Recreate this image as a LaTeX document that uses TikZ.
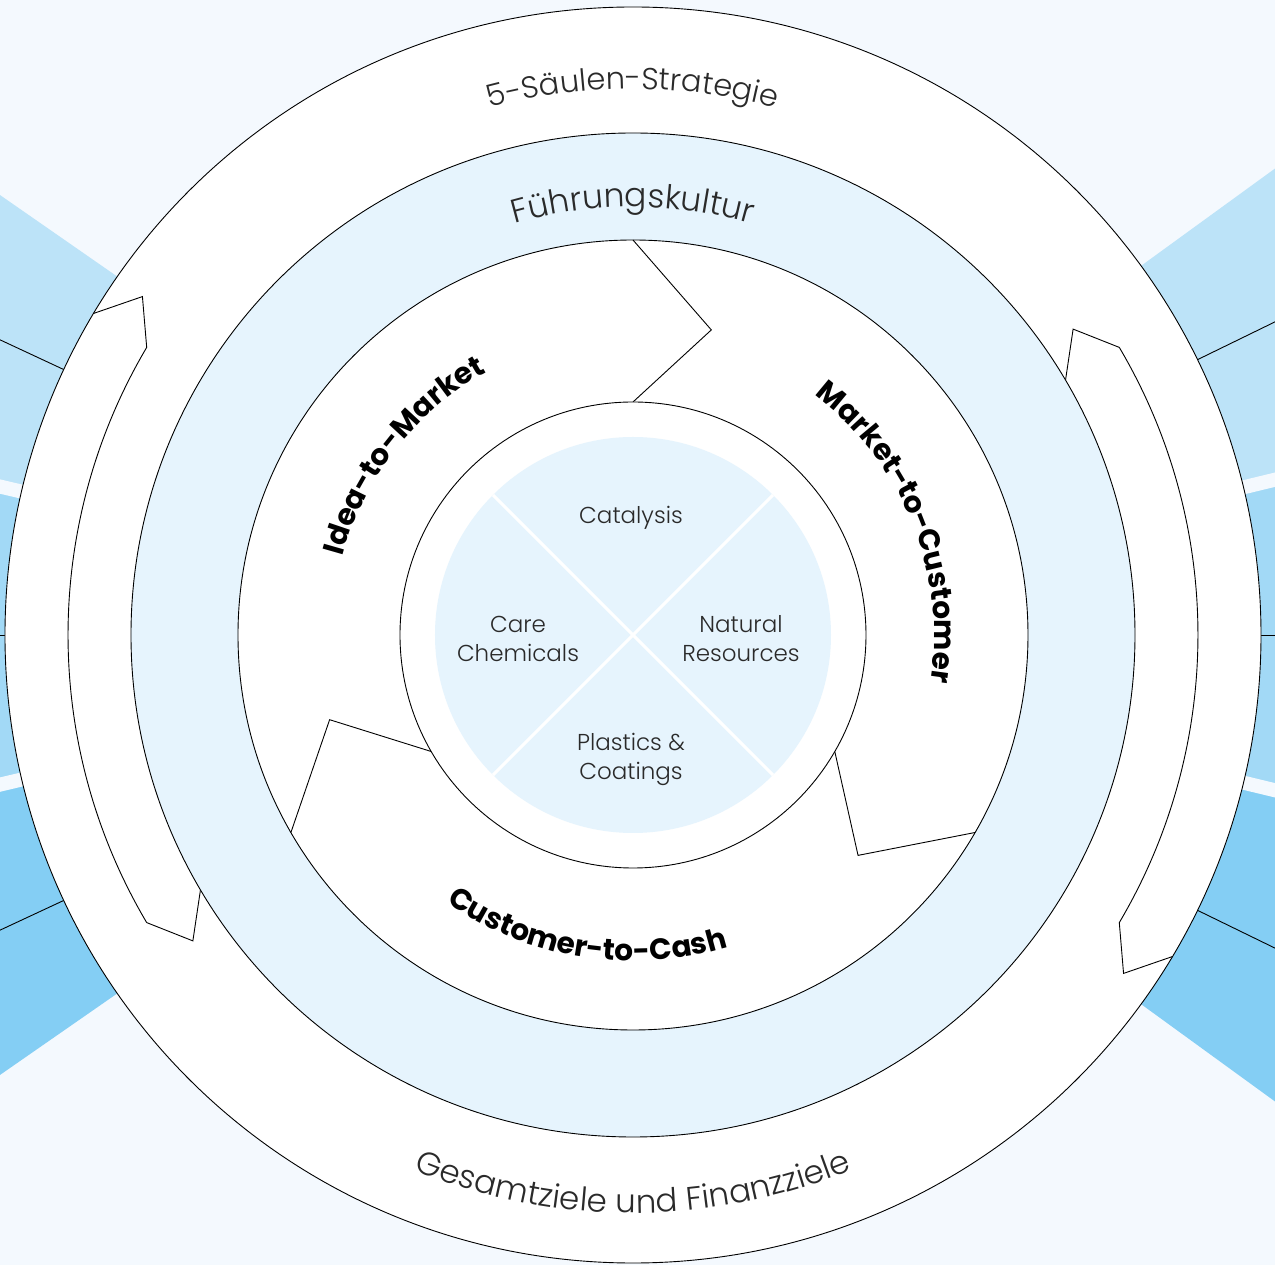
\documentclass[tikz,border=0pt]{standalone}
\usepackage{fontspec}
\setmainfont{Poppins}
\newfontfamily\lightfont{Poppins Light}
\usetikzlibrary{decorations.text}

\definecolor{bg}{HTML}{F4F9FE}
\definecolor{wedgeA}{HTML}{BCE3F8}
\definecolor{wedgeB}{HTML}{A2D9F6}
\definecolor{wedgeC}{HTML}{84CEF4}
\definecolor{ringblue}{HTML}{E6F4FD}
\definecolor{txt}{HTML}{2A2A2A}

\tikzset{
  outline/.style={draw=black, line width=0.9pt},
  gapline/.style={draw=bg, line width=14pt},
  rayline/.style={draw=black, line width=0.9pt},
  arclabel/.style 2 args={decorate, decoration={text along path, text align=center,
      text color=txt, text={|\lightfont\fontsize{#1}{36}\selectfont|#2}}},
  boldlabel/.style={decorate, decoration={text along path, text align=center,
      text color=black, text={|\bfseries\fontsize{29.5}{34}\selectfont|#1}}},
  segment/.style={font=\lightfont\fontsize{23}{29}\selectfont, text=txt, align=center},
}

\begin{document}
\begin{tikzpicture}[x=1pt, y=1pt]
\useasboundingbox (-633,-630) rectangle (642,635);
\fill[bg] (-633,-630) rectangle (642,635);

% coloured rays behind the circle
\begin{scope}
  \clip (-633,-630) rectangle (642,635);
  % left side
  \fill[wedgeA] (0,0) -- (145.2:1000) arc[start angle=145.2, end angle=167, radius=1000] -- cycle;
  \fill[wedgeB] (0,0) -- (167:1000) arc[start angle=167, end angle=193, radius=1000] -- cycle;
  \fill[wedgeC] (0,0) -- (193:1000) arc[start angle=193, end angle=214.8, radius=1000] -- cycle;
  % right side
  \fill[wedgeA] (0,0) -- (36:1000) arc[start angle=36, end angle=13.5, radius=1000] -- cycle;
  \fill[wedgeB] (0,0) -- (13.5:1000) arc[start angle=13.5, end angle=-13.5, radius=1000] -- cycle;
  \fill[wedgeC] (0,0) -- (-13.5:1000) arc[start angle=-13.5, end angle=-36, radius=1000] -- cycle;
  % light gaps between the rays
  \foreach \a in {166.8,193.3,13.6,-13.6}
    \draw[gapline] (0,0) -- (\a:1000);
  % thin dividing rays
  \foreach \a in {155,180,205,26,0,-26}
    \draw[rayline] (0,0) -- (\a:1000);
\end{scope}

% outer disc
\fill[white] (0,0) circle[radius=628];
\draw[outline] (0,0) circle[radius=628];

% circular arrows on both sides
\foreach \r in {0,180}{
  \begin{scope}[rotate=\r]
    \coordinate (p1) at (149.2:628);
    \coordinate (p2) at (145.4:596);
    \coordinate (p3) at (149.4:565);
    \coordinate (p4) at (214.8:536);
    \coordinate (p5) at (210.5:502);
    \draw[outline, line join=miter] (p1) -- (p2) -- (p3)
      arc[start angle=149.4, end angle=210.6, radius=565] -- (p4) -- (p5);
  \end{scope}
}

% leadership ring
\fill[ringblue, even odd rule] (0,0) circle[radius=502] (0,0) circle[radius=395];
\draw[outline] (0,0) circle[radius=502];
\draw[outline] (0,0) circle[radius=395];

% process separators
\foreach \t in {90,210,330}{
  \draw[outline, line join=miter] (\t:395) -- ({\t-14.4}:315) -- (\t:233);
}

% core circle with four segments
\draw[outline, fill=white] (0,0) circle[radius=233];
\fill[ringblue] (0,0) circle[radius=198];
\draw[white, line width=3pt] (45:198) -- (225:198);
\draw[white, line width=3pt] (135:198) -- (315:198);

\node[segment] (catalysis) at (-2,117) {Catalysis};
\node[segment] (care) at (-115,-4) {Care\\Chemicals};
\node[segment] (natural) at (108,-4) {Natural\\Resources};
\node[segment] (plastics) at (-2,-124) {Plastics \&\\Coatings};

% curved labels
\path[arclabel={30.5}{5-Säulen-Strategie}] (125:546) arc[start angle=125, end angle=55, radius=546];
\path[arclabel={33}{Führungskultur}] (125:428) arc[start angle=125, end angle=55, radius=428];
\path[arclabel={32.5}{Gesamtziele und Finanzziele}] (225:578) arc[start angle=225, end angle=315, radius=578];

\path[boldlabel={Idea-to-Market}] (175:301) arc[start angle=175, end angle=109, radius=301];
\path[boldlabel={Market-to-Customer}] (55:301) arc[start angle=55, end angle=-11, radius=301];
\path[boldlabel={Customer-to-Cash}] (-132:326) arc[start angle=-132, end angle=-66, radius=326];
\end{tikzpicture}
\end{document}
